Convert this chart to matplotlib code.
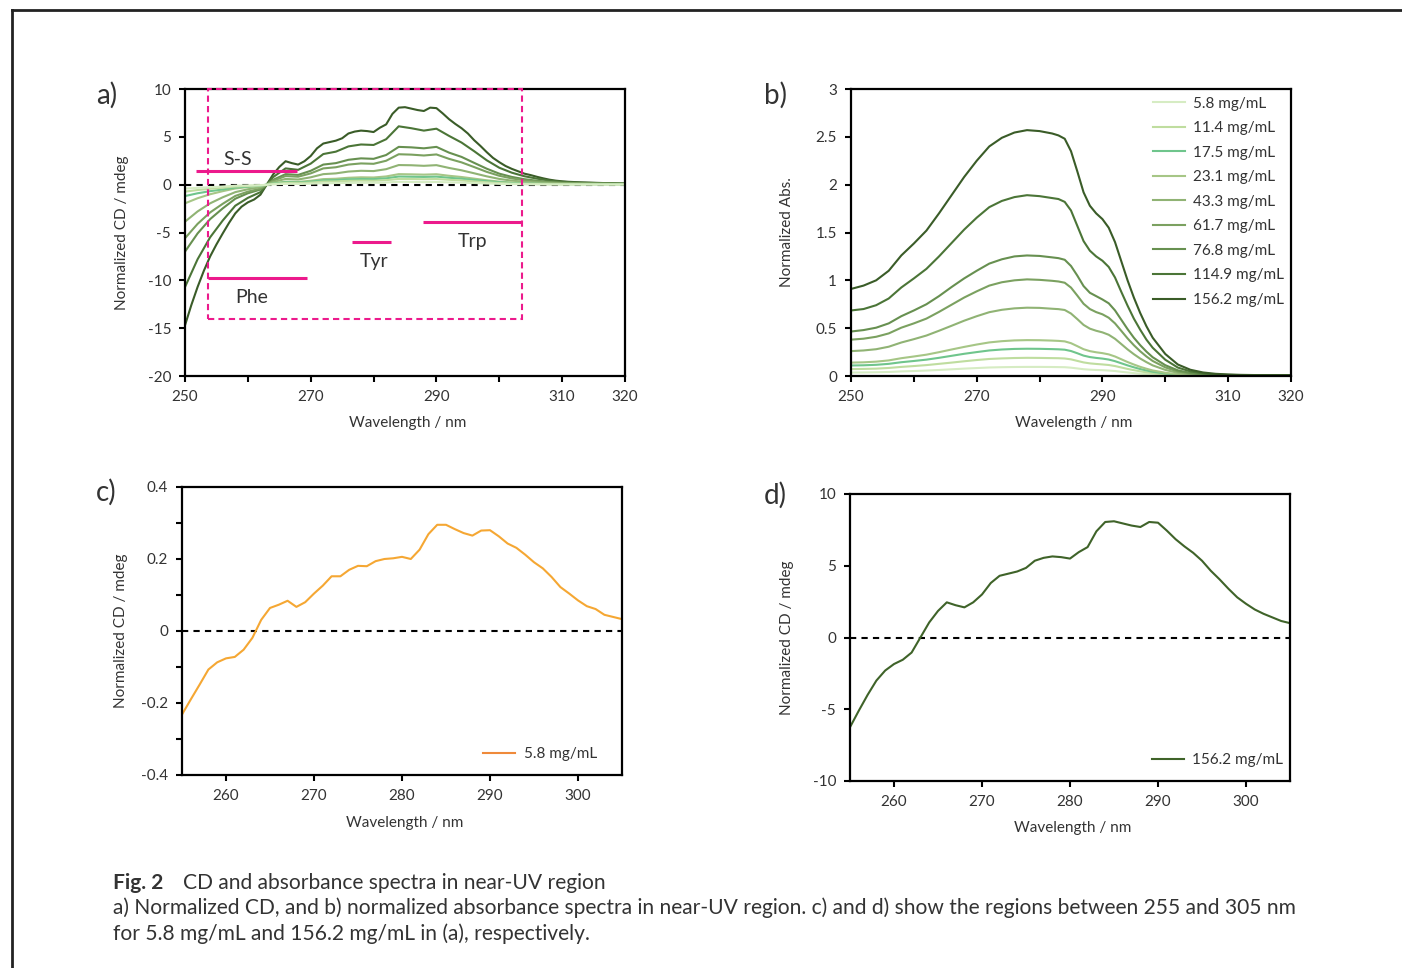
import matplotlib
matplotlib.use('Agg')
import matplotlib.pyplot as plt
import matplotlib.ticker as mtick
from matplotlib.lines import Line2D
from matplotlib.patches import Rectangle
import numpy as np

plt.rcParams['font.family'] = ['Lato', 'DejaVu Sans']
plt.rcParams['axes.unicode_minus'] = False

# concentrations and line colours, light -> dark
concs = ['5.8 mg/mL', '11.4 mg/mL', '17.5 mg/mL', '23.1 mg/mL', '43.3 mg/mL',
         '61.7 mg/mL', '76.8 mg/mL', '114.9 mg/mL', '156.2 mg/mL']
greens = ['#d6ecc3', '#bfdd9f', '#6fc58c', '#a6c686', '#90b374',
          '#7ba160', '#679050', '#4b7537', '#3a5c28']

# CD spectra, 1 nm step (lowest and highest concentration)
wl_cd = np.arange(250, 321, 1)
cd_5_8 = [-0.40, -0.37, -0.33, -0.30, -0.27, -0.232, -0.19, -0.149, -0.107, -0.087,
          -0.076, -0.072, -0.052, -0.019, 0.031, 0.064, 0.073, 0.084, 0.067, 0.080,
          0.104, 0.126, 0.152, 0.152, 0.170, 0.181, 0.180, 0.194, 0.200, 0.202,
          0.206, 0.200, 0.226, 0.269, 0.295, 0.295, 0.283, 0.272, 0.265, 0.279,
          0.280, 0.263, 0.243, 0.231, 0.212, 0.191, 0.174, 0.150, 0.122, 0.104,
          0.085, 0.069, 0.061, 0.045, 0.039, 0.033, 0.028, 0.024, 0.021, 0.019,
          0.017, 0.016, 0.015, 0.014, 0.013, 0.012, 0.012, 0.011, 0.011, 0.010,
          0.010]
cd_156_2 = [-14.7, -12.6, -10.7, -9.0, -7.5, -6.25, -5.1, -4.0, -3.0, -2.3,
            -1.85, -1.55, -1.05, 0.0, 1.05, 1.85, 2.45, 2.25, 2.1, 2.45,
            3.0, 3.8, 4.3, 4.45, 4.6, 4.85, 5.35, 5.55, 5.65, 5.6,
            5.5, 5.95, 6.3, 7.4, 8.05, 8.1, 7.95, 7.8, 7.7, 8.05,
            8.0, 7.45, 6.85, 6.35, 5.9, 5.35, 4.65, 4.05, 3.4, 2.8,
            2.35, 1.95, 1.65, 1.4, 1.15, 1.0, 0.82, 0.66, 0.52, 0.42,
            0.35, 0.3, 0.27, 0.24, 0.22, 0.2, 0.18, 0.16, 0.15, 0.13,
            0.12]

# CD spectra, 2 nm step (intermediate concentrations)
wl_cd2 = np.arange(250, 321, 2)
cd_11_4 = [-0.73, -0.56, -0.43, -0.32, -0.2, -0.13, -0.075, 0.075, 0.18, 0.16,
           0.22, 0.32, 0.34, 0.4, 0.42, 0.41, 0.47, 0.6, 0.59, 0.57,
           0.59, 0.51, 0.44, 0.34, 0.25, 0.17, 0.12, 0.085, 0.065, 0.05,
           0.04, 0.04, 0.035, 0.03, 0.03, 0.03]
cd_17_5 = [-1.19, -0.9, -0.68, -0.5, -0.3, -0.19, -0.11, 0.11, 0.25, 0.22,
           0.31, 0.45, 0.48, 0.56, 0.59, 0.58, 0.66, 0.85, 0.83, 0.81,
           0.84, 0.72, 0.62, 0.49, 0.36, 0.25, 0.17, 0.12, 0.09, 0.07,
           0.06, 0.05, 0.05, 0.04, 0.04, 0.04]
cd_23_1 = [-1.95, -1.42, -1.0, -0.68, -0.4, -0.25, -0.14, 0.14, 0.32, 0.29,
           0.41, 0.58, 0.62, 0.72, 0.77, 0.75, 0.86, 1.1, 1.08, 1.05,
           1.09, 0.93, 0.8, 0.63, 0.46, 0.32, 0.23, 0.16, 0.12, 0.09,
           0.07, 0.06, 0.06, 0.05, 0.05, 0.05]
cd_43_3 = [-3.87, -2.8, -1.95, -1.32, -0.78, -0.48, -0.27, 0.27, 0.6, 0.54,
           0.77, 1.1, 1.18, 1.37, 1.45, 1.42, 1.62, 2.05, 2.03, 1.97,
           2.04, 1.75, 1.5, 1.19, 0.87, 0.6, 0.42, 0.3, 0.22, 0.16,
           0.12, 0.1, 0.09, 0.08, 0.07, 0.07]
cd_61_7 = [-5.6, -4.1, -2.9, -2.0, -1.18, -0.73, -0.41, 0.4, 0.9, 0.83,
           1.18, 1.7, 1.82, 2.1, 2.22, 2.18, 2.5, 3.18, 3.14, 3.05,
           3.16, 2.7, 2.33, 1.84, 1.34, 0.93, 0.65, 0.46, 0.33, 0.23,
           0.17, 0.14, 0.12, 0.1, 0.09, 0.08]
cd_76_8 = [-7.0, -5.1, -3.6, -2.48, -1.47, -0.9, -0.51, 0.5, 1.1, 1.02,
           1.45, 2.1, 2.25, 2.6, 2.75, 2.7, 3.1, 3.95, 3.9, 3.8,
           3.95, 3.35, 2.9, 2.28, 1.67, 1.15, 0.81, 0.57, 0.41, 0.28,
           0.2, 0.16, 0.13, 0.11, 0.1, 0.09]
cd_114_9 = [-10.7, -7.8, -5.5, -3.75, -2.2, -1.38, -0.78, 0.78, 1.7, 1.55,
            2.2, 3.2, 3.45, 4.0, 4.2, 4.15, 4.75, 6.1, 5.9, 5.65,
            5.85, 5.1, 4.4, 3.5, 2.55, 1.77, 1.25, 0.88, 0.63, 0.42,
            0.3, 0.23, 0.19, 0.16, 0.13, 0.11]

# absorbance spectra: 2 nm step, 1 nm step across the 283-298 nm shoulders
wl_abs = np.concatenate([np.arange(250, 283, 2), np.arange(283, 299, 1),
                         np.arange(300, 321, 2)])
abs_5_8 = [0.036, 0.037, 0.039, 0.042, 0.048, 0.052, 0.057, 0.063, 0.07, 0.077,
           0.083, 0.089, 0.092, 0.094, 0.095, 0.095, 0.094,
           0.093, 0.092, 0.087, 0.079, 0.071, 0.066, 0.063, 0.061,
           0.057, 0.052, 0.044, 0.037, 0.030, 0.024, 0.019, 0.015,
           0.009, 0.004, 0.002, 0.001, 0.001, 0.001, 0.001, 0.001, 0.001, 0.001, 0.001]
abs_11_4 = [0.072, 0.074, 0.077, 0.084, 0.095, 0.104, 0.114, 0.127, 0.14, 0.154,
            0.167, 0.178, 0.184, 0.188, 0.19, 0.189, 0.187,
            0.186, 0.183, 0.174, 0.158, 0.142, 0.132, 0.126, 0.121,
            0.115, 0.104, 0.089, 0.074, 0.061, 0.049, 0.038, 0.030,
            0.017, 0.009, 0.005, 0.003, 0.002, 0.002, 0.002, 0.002, 0.002, 0.002, 0.002]
abs_17_5 = [0.11, 0.112, 0.117, 0.127, 0.144, 0.157, 0.171, 0.19, 0.211, 0.232,
            0.25, 0.267, 0.277, 0.283, 0.285, 0.284, 0.281,
            0.279, 0.275, 0.261, 0.238, 0.213, 0.198, 0.189, 0.182,
            0.172, 0.155, 0.133, 0.111, 0.091, 0.073, 0.058, 0.044,
            0.026, 0.013, 0.007, 0.004, 0.003, 0.002, 0.002, 0.002, 0.002, 0.002, 0.002]
abs_23_1 = [0.14, 0.143, 0.15, 0.163, 0.186, 0.204, 0.223, 0.249, 0.277, 0.304,
            0.329, 0.351, 0.364, 0.372, 0.375, 0.374, 0.37,
            0.367, 0.362, 0.343, 0.312, 0.28, 0.26, 0.248, 0.239,
            0.226, 0.204, 0.175, 0.146, 0.12, 0.096, 0.076, 0.058,
            0.034, 0.018, 0.009, 0.005, 0.003, 0.002, 0.002, 0.002, 0.002, 0.002, 0.002]
abs_43_3 = [0.26, 0.267, 0.28, 0.306, 0.35, 0.385, 0.423, 0.473, 0.525, 0.578,
            0.625, 0.667, 0.692, 0.707, 0.714, 0.712, 0.703,
            0.699, 0.69, 0.653, 0.595, 0.534, 0.495, 0.473, 0.456,
            0.431, 0.389, 0.334, 0.278, 0.228, 0.183, 0.145, 0.111,
            0.064, 0.033, 0.018, 0.01, 0.006, 0.004, 0.003, 0.003, 0.003, 0.003, 0.003]
abs_61_7 = [0.38, 0.39, 0.41, 0.445, 0.505, 0.55, 0.6, 0.67, 0.745, 0.82,
            0.885, 0.945, 0.98, 1.0, 1.01, 1.005, 0.995,
            0.988, 0.975, 0.924, 0.841, 0.755, 0.70, 0.668, 0.645,
            0.609, 0.55, 0.472, 0.393, 0.322, 0.259, 0.204, 0.157,
            0.09, 0.047, 0.026, 0.015, 0.009, 0.006, 0.005, 0.005, 0.005, 0.005, 0.005]
abs_76_8 = [0.465, 0.48, 0.505, 0.55, 0.625, 0.685, 0.75, 0.835, 0.93, 1.02,
            1.1, 1.175, 1.22, 1.25, 1.26, 1.255, 1.24,
            1.232, 1.215, 1.15, 1.05, 0.94, 0.87, 0.835, 0.80,
            0.76, 0.686, 0.588, 0.49, 0.40, 0.323, 0.255, 0.196,
            0.113, 0.059, 0.032, 0.018, 0.011, 0.008, 0.006, 0.005, 0.005, 0.005, 0.005]
abs_114_9 = [0.685, 0.70, 0.74, 0.81, 0.925, 1.02, 1.12, 1.25, 1.39, 1.53,
             1.655, 1.765, 1.83, 1.87, 1.89, 1.88, 1.86,
             1.85, 1.82, 1.73, 1.57, 1.41, 1.31, 1.25, 1.205,
             1.14, 1.03, 0.88, 0.735, 0.60, 0.485, 0.38, 0.295,
             0.17, 0.088, 0.048, 0.027, 0.017, 0.012, 0.009, 0.008, 0.007, 0.007, 0.007]
abs_156_2 = [0.91, 0.945, 1.00, 1.10, 1.26, 1.385, 1.52, 1.70, 1.89, 2.08,
             2.25, 2.40, 2.49, 2.545, 2.57, 2.56, 2.535,
             2.515, 2.48, 2.35, 2.14, 1.92, 1.78, 1.70, 1.64,
             1.55, 1.40, 1.20, 1.00, 0.82, 0.66, 0.52, 0.40,
             0.23, 0.12, 0.065, 0.037, 0.023, 0.016, 0.012, 0.01, 0.01, 0.01, 0.01]

cd_series = [(wl_cd, cd_5_8), (wl_cd2, cd_11_4), (wl_cd2, cd_17_5), (wl_cd2, cd_23_1),
             (wl_cd2, cd_43_3), (wl_cd2, cd_61_7), (wl_cd2, cd_76_8), (wl_cd2, cd_114_9),
             (wl_cd, cd_156_2)]
abs_series = [abs_5_8, abs_11_4, abs_17_5, abs_23_1, abs_43_3,
              abs_61_7, abs_76_8, abs_114_9, abs_156_2]

# band markers in panel a: (label, x0, x1, y, label x, label y)
bands = [('S-S', 251.8, 267.8, 1.45, 258.3, 2.6),
         ('Phe', 253.6, 269.4, -9.75, 260.6, -11.8),
         ('Tyr', 276.6, 282.7, -6.0, 280.1, -8.0),
         ('Trp', 287.8, 303.6, -3.9, 295.7, -5.9)]
box = (253.6, -14.05, 303.6, 10.0)

PINK = '#ec1a8c'
TXT = '#333333'
FS = 11
W, H = 1402, 968

fig = plt.figure(figsize=(W / 100, H / 100), dpi=100)


def px_axes(l, t, r, b):
    return fig.add_axes([l / W, 1 - b / H, (r - l) / W, (b - t) / H])


def style(ax):
    for s in ax.spines.values():
        s.set_linewidth(1.6)
        s.set_color('black')
    ax.tick_params(which='both', direction='out', length=4, width=1.5,
                   labelsize=FS, labelcolor=TXT, pad=6)
    ax.set_xlabel('Wavelength / nm', fontsize=FS, color=TXT)


ax_a = px_axes(185, 89, 625, 376)
ax_b = px_axes(851, 89, 1291, 376)
ax_c = px_axes(182, 487, 622, 775)
ax_d = px_axes(850, 494, 1290, 781)

leg_kw = dict(frameon=False, fontsize=FS, handlelength=2.1, handletextpad=0.55,
              borderaxespad=0, labelcolor=TXT)

# ---- a) CD, all concentrations
ax_a.axhline(0, color='black', lw=1.5, ls=(0, (3, 2.5)), zorder=1)
for (x, y), c in reversed(list(zip(cd_series, greens))):
    ax_a.plot(x, y, color=c, lw=1.5, zorder=2)
ax_a.add_patch(Rectangle((box[0], box[1]), box[2] - box[0], box[3] - box[1],
                         fill=False, ec=PINK, lw=1.5, ls=(0, (3, 2)), zorder=3,
                         clip_on=False))
for name, x0, x1, y, tx, ty in bands:
    ax_a.plot([x0, x1], [y, y], color=PINK, lw=2.2, zorder=4, solid_capstyle='butt')
    ax_a.text(tx, ty, name, fontsize=14, color=TXT, ha='center', va='center')
ax_a.set_xlim(250, 320)
ax_a.set_ylim(-20, 10)
ax_a.set_xticks(range(250, 321, 10))
ax_a.set_xticklabels(['250', '', '270', '', '290', '', '310', '320'])
ax_a.set_yticks(range(-20, 11, 5))
ax_a.set_ylabel('Normalized CD / mdeg', fontsize=FS, color=TXT)
style(ax_a)

# ---- b) absorbance
for y, c, lab in zip(abs_series, greens, concs):
    ax_b.plot(wl_abs, y, color=c, lw=1.5, label=lab)
ax_b.set_xlim(250, 320)
ax_b.set_ylim(0, 3)
ax_b.set_xticks(range(250, 321, 10))
ax_b.set_xticklabels(['250', '', '270', '', '290', '', '310', '320'])
ax_b.set_yticks([0, 0.5, 1, 1.5, 2, 2.5, 3])
ax_b.set_yticklabels(['0', '0.5', '1', '1.5', '2', '2.5', '3'])
ax_b.set_ylabel('Normalized Abs.', fontsize=FS, color=TXT)
ax_b.legend(loc='upper right', bbox_to_anchor=(0.998, 0.995), labelspacing=0.69, **leg_kw)
style(ax_b)

# ---- c) CD 5.8 mg/mL
ax_c.axhline(0, color='black', lw=1.5, ls=(0, (3, 2.5)), zorder=1)
ax_c.plot(wl_cd, cd_5_8, color='#f5a733', lw=1.5, label=concs[0], zorder=2)
ax_c.set_xlim(255, 305)
ax_c.set_ylim(-0.4, 0.4)
ax_c.set_xticks(range(260, 301, 10))
ax_c.set_yticks([-0.4, -0.2, 0, 0.2, 0.4])
ax_c.set_yticklabels(['-0.4', '-0.2', '0', '0.2', '0.4'])
ax_c.yaxis.set_minor_locator(mtick.FixedLocator([-0.3, -0.1, 0.1, 0.3]))
ax_c.set_ylabel('Normalized CD / mdeg', fontsize=FS, color=TXT)
leg = ax_c.legend(loc='center right', bbox_to_anchor=(0.957, 0.073), **leg_kw)
leg.get_lines()[0].set_color('#ef8a3a')
style(ax_c)

# ---- d) CD 156.2 mg/mL
ax_d.axhline(0, color='black', lw=1.5, ls=(0, (3, 2.5)), zorder=1)
ax_d.plot(wl_cd, cd_156_2, color='#3f6329', lw=1.5, label=concs[-1], zorder=2)
ax_d.set_xlim(255, 305)
ax_d.set_ylim(-10, 10)
ax_d.set_xticks(range(260, 301, 10))
ax_d.set_yticks(range(-10, 11, 5))
ax_d.set_ylabel('Normalized CD / mdeg', fontsize=FS, color=TXT)
ax_d.legend(loc='center right', bbox_to_anchor=(0.998, 0.073), **leg_kw)
style(ax_d)

# label positions
ax_a.yaxis.set_label_coords(-0.128, 0.5)
ax_b.yaxis.set_label_coords(-0.13, 0.5)
ax_c.yaxis.set_label_coords(-0.123, 0.5)
ax_d.yaxis.set_label_coords(-0.127, 0.5)
for ax in (ax_a, ax_b, ax_c, ax_d):
    ax.xaxis.set_label_coords(0.505, -0.141)

for lab, x, y in [('a)', 96, 95), ('b)', 764, 95), ('c)', 96, 492), ('d)', 764, 495)]:
    fig.text(x / W, 1 - y / H, lab, fontsize=20, color=TXT, va='center')

# caption
CFS = 15.1
fig.text(113 / W, 1 - 883 / H, 'Fig. 2', fontsize=CFS, weight='bold', color=TXT, va='center')
fig.text(183 / W, 1 - 883 / H, 'CD and absorbance spectra in near-UV region',
         fontsize=CFS, color=TXT, va='center')
fig.text(113 / W, 1 - 908 / H,
         'a) Normalized CD, and b) normalized absorbance spectra in near-UV region. '
         'c) and d) show the regions between 255 and 305 nm',
         fontsize=CFS, color=TXT, va='center')
fig.text(113 / W, 1 - 934 / H, 'for 5.8 mg/mL and 156.2 mg/mL in (a), respectively.',
         fontsize=CFS, color=TXT, va='center')

# outer frame (top and left edges)
fig.add_artist(Line2D([12 / W, 12 / W], [0, 1 - 10 / H], color='#222222', lw=2,
                      transform=fig.transFigure))
fig.add_artist(Line2D([12 / W, 1], [1 - 10 / H, 1 - 10 / H], color='#222222', lw=2,
                      transform=fig.transFigure))

fig.savefig('out.png', dpi=100)
